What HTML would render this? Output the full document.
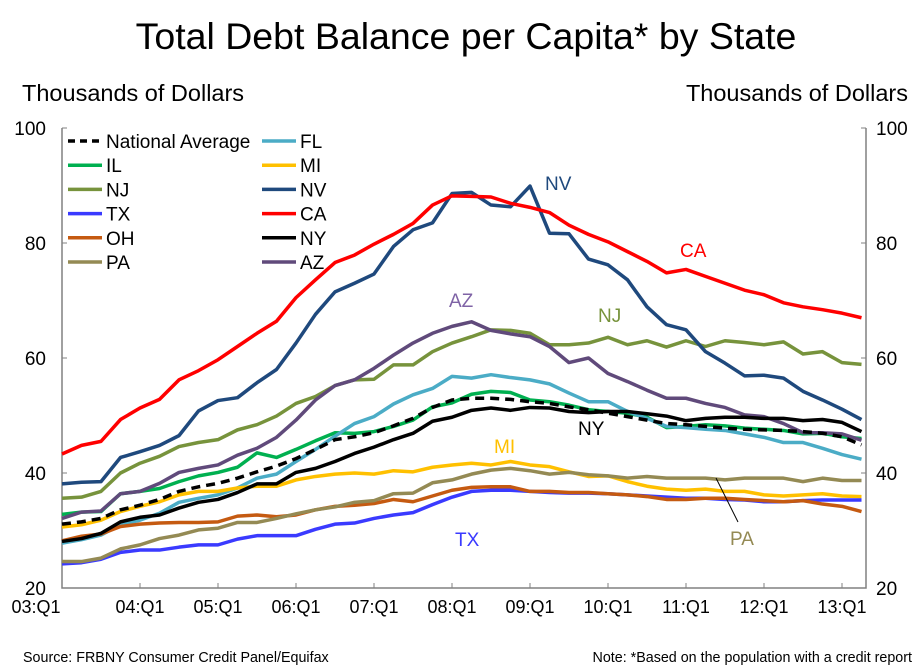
<!DOCTYPE html>
<html><head><meta charset="utf-8"><style>
body{margin:0;background:#fff;}
svg{display:block;font-family:"Liberation Sans",Arial,sans-serif;}
</style></head><body>
<svg id="chart" width="922" height="669">
<text x="466" y="49" text-anchor="middle" font-size="37.5">Total Debt Balance per Capita* by State</text>
<text x="22" y="101" font-size="23.5">Thousands of Dollars</text>
<text x="908" y="101" font-size="23.5" text-anchor="end">Thousands of Dollars</text>
<text x="23" y="662" font-size="14.3">Source: FRBNY Consumer Credit Panel/Equifax</text>
<text x="912" y="662" font-size="14.3" text-anchor="end">Note:  *Based on the population with a credit report</text>
<g id="axes"></g>
<g id="series"></g>
<g id="legend"></g>
<g id="labels"></g>
</svg>
<script>
const xLabels=["03:Q1","04:Q1","05:Q1","06:Q1","07:Q1","08:Q1","09:Q1","10:Q1","11:Q1","12:Q1","13:Q1"];
const yTicks=[20,40,60,80,100];
const nationalAvg=[31.1,31.5,32.1,33.6,34.4,35.4,36.8,37.6,38.2,39.1,40.2,41.2,42.5,44.1,45.8,46.3,47.0,48.2,49.5,51.4,52.7,53.0,53.0,52.8,52.4,52.1,51.5,51.0,50.4,49.8,49.2,48.6,48.4,48.1,47.8,47.6,47.5,47.4,47.2,46.9,46.3,44.9];
const fl=[27.8,28.4,29.2,31.0,31.8,33.0,34.9,35.6,36.2,37.4,39.1,39.8,42.0,44.1,46.4,48.6,49.8,52.0,53.6,54.7,56.8,56.5,57.1,56.6,56.2,55.5,53.9,52.4,52.4,50.7,49.5,48.1,47.9,47.6,47.4,46.8,46.2,45.3,45.3,44.3,43.2,42.4];
const il=[32.8,33.2,33.3,36.4,36.8,37.3,38.5,39.5,40.1,41.0,43.5,42.7,44.1,45.6,47.0,46.9,47.2,48.1,49.2,51.5,52.2,53.7,54.2,54.0,52.7,52.4,51.8,51.0,50.7,50.4,49.7,47.9,48.1,48.4,48.2,47.8,47.6,47.4,46.8,46.9,46.3,46.0];
const mi=[30.6,31.0,31.8,33.3,34.2,35.0,36.2,36.8,36.8,37.4,37.7,37.7,38.8,39.4,39.8,40.0,39.8,40.4,40.2,41.0,41.4,41.7,41.4,42.0,41.4,41.1,40.2,39.4,39.5,38.5,37.7,37.2,37.0,37.2,36.8,36.8,36.2,36.0,36.2,36.4,36.0,35.9];
const nj=[35.6,35.8,36.8,40.0,41.7,42.9,44.6,45.3,45.8,47.5,48.4,49.9,52.1,53.3,55.2,56.2,56.3,58.8,58.8,61.1,62.6,63.7,64.9,64.8,64.3,62.3,62.3,62.6,63.6,62.3,63.0,61.9,63.0,62.0,63.0,62.7,62.3,62.8,60.7,61.1,59.2,58.9];
const nv=[38.1,38.4,38.5,42.7,43.7,44.8,46.5,50.8,52.6,53.1,55.7,58.0,62.6,67.6,71.5,73.0,74.6,79.4,82.3,83.5,88.6,88.8,86.6,86.3,89.9,81.7,81.6,77.2,76.2,73.6,68.9,65.8,64.9,61.1,59.1,56.9,57.0,56.5,54.2,52.7,51.1,49.3];
const tx=[24.2,24.4,25.0,26.2,26.6,26.6,27.1,27.5,27.5,28.5,29.1,29.1,29.1,30.2,31.1,31.3,32.1,32.7,33.1,34.5,35.8,36.8,37.0,37.0,36.8,36.6,36.5,36.5,36.4,36.2,36.0,35.8,35.6,35.6,35.4,35.3,35.0,35.0,35.2,35.3,35.3,35.3];
const ca=[43.3,44.8,45.5,49.3,51.3,52.8,56.2,57.8,59.7,62.0,64.3,66.4,70.5,73.6,76.6,77.9,79.8,81.5,83.4,86.6,88.2,88.1,88.0,86.9,86.2,85.3,83.1,81.5,80.2,78.5,76.8,74.8,75.4,74.2,73.0,71.8,71.0,69.6,68.9,68.4,67.8,67.0];
const oh=[28.2,29.0,29.4,30.7,31.1,31.3,31.4,31.4,31.5,32.5,32.7,32.4,32.7,33.6,34.2,34.4,34.7,35.4,35.0,36.0,37.0,37.5,37.6,37.6,36.8,36.8,36.6,36.6,36.4,36.2,35.9,35.4,35.4,35.6,35.6,35.4,35.2,35.0,35.2,34.6,34.2,33.3];
const ny=[28.1,28.6,29.5,31.5,32.3,32.7,33.9,34.9,35.4,36.6,38.1,38.1,40.1,40.8,42.0,43.4,44.5,45.8,46.9,49.0,49.7,50.9,51.3,50.9,51.4,51.3,50.7,50.5,50.7,50.7,50.3,49.9,49.1,49.5,49.7,49.7,49.5,49.5,49.1,49.3,48.8,47.2];
const pa=[24.6,24.6,25.2,26.8,27.5,28.6,29.2,30.1,30.4,31.4,31.4,32.1,32.9,33.6,34.1,34.9,35.2,36.4,36.5,38.3,38.8,39.8,40.5,40.8,40.4,39.8,40.1,39.7,39.5,39.1,39.4,39.1,39.1,39.1,38.8,39.1,39.1,39.1,38.5,39.1,38.7,38.7];
const az=[32.1,33.2,33.4,36.4,36.8,38.2,40.1,40.8,41.4,43.1,44.3,46.2,49.2,52.7,55.2,56.2,58.2,60.5,62.6,64.3,65.5,66.3,64.8,64.2,63.7,62.0,59.2,60.0,57.3,55.9,54.4,53.0,53.0,52.1,51.4,50.1,49.8,48.6,47.0,47.0,46.8,45.7];

const NS="http://www.w3.org/2000/svg";
const L=62,R=866,T=128,B=588,Q=19.5;
const xs=i=>L+i*Q;
const ys=v=>B-(v-20)/80*(B-T);
function mk(tag,attrs,parent){const e=document.createElementNS(NS,tag);for(const k in attrs)e.setAttribute(k,attrs[k]);parent.appendChild(e);return e;}
const axes=document.getElementById('axes');
let f=mk('path',{d:`M${L},${T}V${B}H${R}V${T}`,fill:'none',stroke:'#808080','stroke-width':1.5},axes);


yTicks.forEach(v=>{
 let t=mk('text',{x:46,y:ys(v)+7,'text-anchor':'end','font-size':19},axes);t.textContent=v;
 
 
 let t2=mk('text',{x:876,y:ys(v)+7,'font-size':19},axes);t2.textContent=v;
 
 
 mk('line',{x1:L,x2:L+5,y1:ys(v),y2:ys(v),stroke:'#808080'},axes);
 mk('line',{x1:R-5,x2:R,y1:ys(v),y2:ys(v),stroke:'#808080'},axes);
});
xLabels.forEach((s,k)=>{
 const x=xs(k*4);
 if(k>0)mk('line',{x1:x,x2:x,y1:B,y2:B-5,stroke:'#808080'},axes);
 let t=mk('text',{x:k==0?36:x,y:613,'text-anchor':'middle','font-size':18},axes);t.textContent=s;
 
 
});
const seriesList=[
 ['IL',il,'#00b050',false],['FL',fl,'#4bacc6',false],['MI',mi,'#ffc000',false],['TX',tx,'#3a3aff',false],['OH',oh,'#c55a11',false],['PA',pa,'#948a54',false],
 ['NJ',nj,'#77933c',false],['AZ',az,'#604a7b',false],['NV',nv,'#1f497d',false],['CA',ca,'#ff0000',false],['NY',ny,'#000000',false],['National Average',nationalAvg,'#000000',true]];
const sg=document.getElementById('series');
seriesList.forEach(([n,d,c,dash])=>{
 const p=mk('polyline',{points:d.map((v,i)=>xs(i)+','+ys(v)).join(' '),fill:'none',stroke:c,'stroke-width':3.5,'stroke-linejoin':'round'},sg);
 if(dash)p.setAttribute('stroke-dasharray','9,6');
 
 
});
const legendItems=[['National Average','#000',true,0,0],['IL','#00b050',false,0,1],['NJ','#77933c',false,0,2],['TX','#3a3aff',false,0,3],['OH','#c55a11',false,0,4],['PA','#948a54',false,0,5],
 ['FL','#4bacc6',false,1,0],['MI','#ffc000',false,1,1],['NV','#1f497d',false,1,2],['CA','#ff0000',false,1,3],['NY','#000',false,1,4],['AZ','#604a7b',false,1,5]];
const lg=document.getElementById('legend');
legendItems.forEach(([n,c,dash,col,row])=>{
 const x0=col?262:68,y=141+row*24.2;
 const g=mk('g',{},lg);
 
 
 const ln=mk('line',{x1:x0,x2:x0+34,y1:y,y2:y,stroke:c,'stroke-width':3.5},g);
 if(dash)ln.setAttribute('stroke-dasharray','7,5');
 const t=mk('text',{x:x0+38,y:y+7,'font-size':19},g);t.textContent=n;
});
const labels=[['NV',545,190,'#1f497d'],['CA',680,257,'#ff0000'],['AZ',449,307,'#7f63a6'],['NJ',598,322,'#77933c'],['MI',494,453,'#ffc000'],['NY',578,435,'#000'],['TX',455,546,'#3a3aff'],['PA',730,545,'#948a54']];
const lb=document.getElementById('labels');
labels.forEach(([n,x,y,c])=>{
 const t=mk('text',{x:x,y:y,'font-size':19,fill:c},lb);t.textContent=n;
 
 
});
const pl=mk('line',{x1:716,y1:478,x2:738,y2:522,stroke:'#000','stroke-width':1},lb);


</script>
</body></html>
